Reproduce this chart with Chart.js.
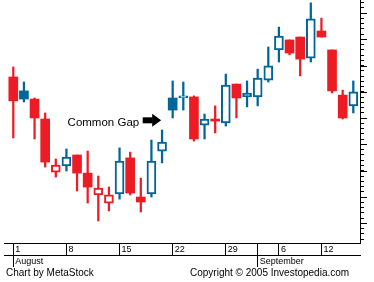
<!DOCTYPE html>
<html>
<head>
<meta charset="utf-8">
<title>Common Gap</title>
<script src="https://cdn.jsdelivr.net/npm/chart.js@4.4.1/dist/chart.umd.min.js"></script>
<style>
  html, body { margin: 0; padding: 0; background: #fff; }
  #wrap { position: relative; width: 374px; height: 282px; }
  .foot { position: absolute; top: 268px; font: 10px/10px "Liberation Sans", Arial, sans-serif; color: #000; white-space: nowrap; }
</style>
</head>
<body>
<div id="wrap">
  <canvas id="gapChart"></canvas>
  <div class="foot" style="left:6px">Chart by MetaStock</div>
  <div class="foot" style="left:190px">Copyright © 2005 Investopedia.com</div>
</div>
<script>
// trading days, Aug 1 - Sep 15 2005
const days = ["Aug 1", "Aug 2", "Aug 3", "Aug 4", "Aug 5", "Aug 8", "Aug 9", "Aug 10", "Aug 11", "Aug 12",
  "Aug 15", "Aug 16", "Aug 17", "Aug 18", "Aug 19", "Aug 22", "Aug 23", "Aug 24", "Aug 25", "Aug 26",
  "Aug 29", "Aug 30", "Aug 31", "Sep 1", "Sep 2", "Sep 6", "Sep 7", "Sep 8", "Sep 9", "Sep 12",
  "Sep 13", "Sep 14", "Sep 15"];
const opens = [23.57, 23.04, 22.73, 21.97, 19.95, 20.18, 20.60, 19.91, 19.08, 18.77,
  19.12, 20.49, 19.00, 19.12, 20.75, 22.77, 22.77, 22.81, 21.74, 21.97,
  21.82, 23.30, 22.81, 22.81, 23.45, 24.60, 24.98, 25.09, 24.29, 25.32,
  24.60, 22.88, 22.47];
const highs = [23.95, 23.38, 22.77, 22.20, 20.45, 20.83, 20.60, 20.75, 19.80, 19.38,
  20.87, 20.71, 19.72, 21.17, 21.55, 23.42, 23.38, 22.85, 22.16, 22.47,
  23.68, 23.30, 23.42, 23.87, 24.71, 25.47, 24.98, 25.09, 26.39, 25.81,
  24.60, 23.07, 23.42];
const lows = [21.25, 22.62, 21.21, 20.14, 19.76, 19.99, 19.23, 18.77, 18.09, 18.47,
  18.92, 19.08, 18.43, 19.00, 20.30, 22.01, 22.31, 21.13, 21.21, 21.44,
  21.70, 22.01, 22.43, 22.47, 23.38, 24.14, 24.41, 23.61, 24.14, 25.09,
  22.96, 21.97, 22.20];
const closes = [22.66, 22.73, 22.01, 20.33, 20.22, 20.52, 19.91, 19.38, 19.34, 19.08,
  20.37, 19.15, 18.81, 20.37, 21.09, 22.31, 22.85, 21.21, 21.97, 21.89,
  23.26, 22.77, 22.96, 23.53, 23.99, 25.13, 24.48, 24.25, 25.78, 25.09,
  23.04, 22.01, 23.00];

const tickDays = ["Aug 1", "Aug 8", "Aug 15", "Aug 22", "Aug 29", "Sep 6", "Sep 12"];
const tickLabels = ["1", "8", "15", "22", "29", "6", "12"];
const monthDays = ["Aug 1", "Sep 1"];
const monthLabels = ["August", "September"];

const RED = "#ED1C24";
const BLUE = "#006599";
const FONT = "'Liberation Sans', Arial, sans-serif";

const dateIdx = tickDays.map(d => days.indexOf(d));
const monthIdx = monthDays.map(d => days.indexOf(d));
const dateTickIdx = [...new Set(dateIdx.concat(monthIdx))];

// MetaStock style: colour vs previous close, filled when close < open
const colors = closes.map((c, i) => c > (i ? closes[i - 1] : opens[i]) ? BLUE : RED);
const filled = closes.map((c, i) => c < opens[i]);

const xMin = -0.875, xMax = 32.63;

function labelAt(idxs, labels) {
  return v => {
    const k = idxs.indexOf(Math.round(v));
    return k < 0 ? "" : labels[k];
  };
}

const yTicksMajor = {
  id: "yTicksMajor",
  afterDraw(chart) {
    const { ctx, scales: { y } } = chart;
    ctx.save();
    ctx.strokeStyle = "#000";
    ctx.lineWidth = 1;
    y.ticks.forEach(t => {
      if (Math.abs(t.value - Math.round(t.value)) < 1e-6) {
        const py = Math.round(y.getPixelForValue(t.value)) + 0.5;
        ctx.beginPath();
        ctx.moveTo(y.left, py);
        ctx.lineTo(y.left + 7, py);
        ctx.stroke();
      }
    });
    ctx.restore();
  }
};

// "Common Gap" label with arrow pointing at the gap
const gapIndex = 15, gapPrice = 21.92;
const gapNote = {
  id: "gapNote",
  afterDraw(chart) {
    const { ctx, scales: { x, y } } = chart;
    const tx = x.getPixelForValue(gapIndex) - 11.5;
    const ty = y.getPixelForValue(gapPrice);
    ctx.save();
    ctx.fillStyle = "#000";
    ctx.fillRect(tx - 18.5, ty - 3, 10, 6);
    ctx.beginPath();
    ctx.moveTo(tx - 9, ty - 6.5);
    ctx.lineTo(tx, ty);
    ctx.lineTo(tx - 9, ty + 6.5);
    ctx.closePath();
    ctx.fill();
    ctx.font = "11.5px " + FONT;
    ctx.textAlign = "right";
    ctx.textBaseline = "alphabetic";
    ctx.fillText("Common Gap", tx - 22, ty + 5.5);
    ctx.restore();
  }
};

const ctx = document.getElementById("gapChart").getContext("2d");
const gapChart = new Chart(ctx, {
  type: "bar",
  data: {
    datasets: [{
      label: "Body",
      data: days.map((d, i) => ({ x: i, y: [opens[i], closes[i]] })),
      backgroundColor: filled.map((f, i) => f ? colors[i] : "#fff"),
      borderColor: colors,
      borderWidth: filled.map(f => f ? 0 : 2),
      borderSkipped: false,
      barThickness: 9,
      grouped: false
    }, {
      label: "Range",
      data: days.map((d, i) => ({ x: i, y: [lows[i], highs[i]] })),
      backgroundColor: colors,
      borderWidth: 0,
      borderSkipped: false,
      barThickness: 1.6,
      grouped: false
    }]
  },
  options: {
    responsive: true,
    maintainAspectRatio: false,
    animation: false,
    layout: { padding: { left: 4, right: 0, top: 0, bottom: 15 } },
    plugins: { legend: { display: false }, tooltip: { enabled: false } },
    scales: {
      x: {
        type: "linear", position: "bottom", min: xMin, max: xMax, offset: false,
        afterBuildTicks: s => { s.ticks = dateTickIdx.map(v => ({ value: v })); },
        afterFit: s => { s.height = 12; },
        ticks: {
          callback: labelAt(dateIdx, tickLabels), autoSkip: false, maxRotation: 0,
          align: "start", labelOffset: 2, padding: -11,
          color: "#000", font: { family: FONT, size: 9 }
        },
        grid: { drawOnChartArea: false, offset: false, tickLength: 12, color: "#000" },
        border: { color: "#000" }
      },
      month: {
        type: "linear", position: "bottom", min: xMin, max: xMax, offset: false,
        afterBuildTicks: s => { s.ticks = monthIdx.map(v => ({ value: v })); },
        afterFit: s => { s.height = 12; },
        ticks: {
          callback: labelAt(monthIdx, monthLabels), autoSkip: false, maxRotation: 0,
          align: "start", labelOffset: 2, padding: -11,
          color: "#000", font: { family: FONT, size: 9 }
        },
        grid: { drawOnChartArea: false, offset: false, tickLength: 12, color: "#000" },
        border: { color: "#000" }
      },
      y: {
        position: "right", min: 17.25, max: 26.5,
        afterBuildTicks: s => {
          const t = [];
          for (let v = 174; v <= 264; v += 2) t.push({ value: v / 10 });
          s.ticks = t;
        },
        afterFit: s => { s.width = 14; },
        ticks: { display: false },
        grid: { drawOnChartArea: false, tickLength: 4, color: "#000" },
        border: { color: "#000" }
      }
    }
  },
  plugins: [yTicksMajor, gapNote]
});
</script>
</body>
</html>
